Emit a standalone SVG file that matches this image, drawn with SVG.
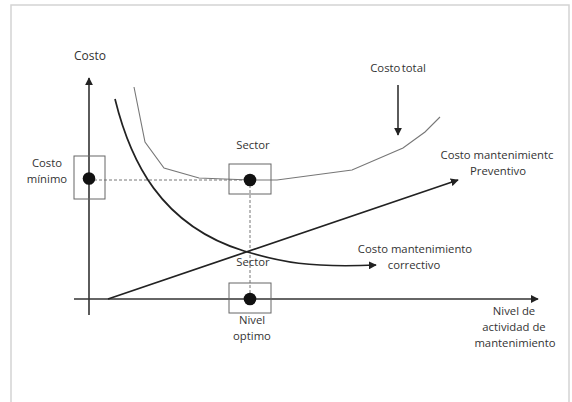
<svg xmlns="http://www.w3.org/2000/svg" width="572" height="402" viewBox="0 0 572 402">
  <defs>
    <marker id="arrow" viewBox="0 0 10 10" refX="9" refY="5" markerWidth="8" markerHeight="8" markerUnits="userSpaceOnUse" orient="auto">
      <path d="M0,0 L10,5 L0,10 z" fill="#222"/>
    </marker>
  </defs>
  <style>
    text { font-family: "Open Sans", "Liberation Sans", sans-serif; font-size: 11.3px; fill: #333; text-anchor: middle; }
    .axis { stroke: #333; stroke-width: 1.6; fill: none; }
    .box { stroke: #666; stroke-width: 1; fill: none; }
    .dot { fill: #111; }
    .guide { stroke: #777; stroke-width: 1; stroke-dasharray: 3 2; fill: none; }
    .total { stroke: #777; stroke-width: 1.1; fill: none; }
    .curve { stroke: #222; stroke-width: 1.7; fill: none; }
  </style>
  <rect x="0" y="0" width="572" height="402" fill="#fff"/>
  <!-- outer frame -->
  <path d="M11,402 V5 H569 V402" fill="none" stroke="#d4d4d4" stroke-width="1.5"/>

  <!-- axes and curves -->
  <g id="connectors">
    <line class="axis" x1="89" y1="315" x2="89" y2="78" marker-end="url(#arrow)"/>
    <line class="axis" x1="74" y1="299" x2="538" y2="299" marker-end="url(#arrow)"/>
    <line class="guide" x1="89" y1="180" x2="250" y2="180"/>
    <line class="guide" x1="250" y1="180" x2="250" y2="299"/>
    <polyline class="total" points="134,87 145,142 164,168 199,178 250,180 277,180 352,170 403,148 425,132 440,117"/>
    <path class="curve" d="M115,99 C130,160 160,225 244,251 C280,262 310,268 376,265" marker-end="url(#arrow)"/>
    <line class="curve" x1="108" y1="299" x2="458" y2="180" marker-end="url(#arrow)"/>
    <line class="axis" x1="398" y1="85" x2="398" y2="135" marker-end="url(#arrow)"/>
  </g>

  <g id="eje-costo">
    <text x="90" y="60" style="font-size:12px">Costo</text>
  </g>
  <g id="costo-minimo">
    <rect class="box" x="74" y="156" width="31" height="43"/>
    <circle class="dot" cx="89" cy="178.5" r="6.3"/>
    <text x="47" y="167">Costo</text>
    <text x="47" y="183">mínimo</text>
  </g>
  <g id="sector-superior">
    <rect class="box" x="229" y="164" width="42" height="30"/>
    <circle class="dot" cx="250" cy="180" r="6.3"/>
    <text x="253" y="149">Sector</text>
  </g>
  <g id="sector-inferior">
    <rect class="box" x="229" y="283" width="42" height="30"/>
    <circle class="dot" cx="250" cy="299" r="6.3"/>
    <text x="253" y="266">Sector</text>
    <text x="252" y="324">Nivel</text>
    <text x="252" y="340">optimo</text>
  </g>
  <g id="costo-total">
    <text x="398" y="72" style="word-spacing:-1.5px">Costo total</text>
  </g>
  <g id="preventivo">
    <text x="497" y="159">Costo mantenimientc</text>
    <text x="498" y="175">Preventivo</text>
  </g>
  <g id="correctivo">
    <text x="415" y="253">Costo mantenimiento</text>
    <text x="414" y="269">correctivo</text>
  </g>
  <g id="eje-nivel">
    <text x="514" y="315">Nivel de</text>
    <text x="514" y="331">actividad de</text>
    <text x="515" y="347">mantenimiento</text>
  </g>
</svg>
